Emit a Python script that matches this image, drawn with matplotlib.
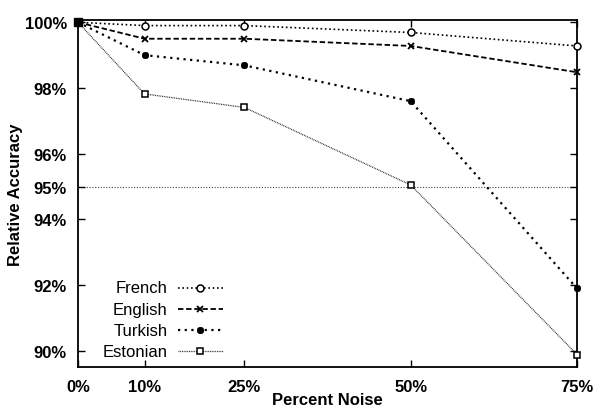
import matplotlib
matplotlib.use("Agg")
import matplotlib.pyplot as plt
from matplotlib.lines import Line2D

plt.rcParams['font.family'] = ['Liberation Sans', 'DejaVu Sans']

noise = [0, 10, 25, 50, 75]
xtick_labels = ['0%', '10%', '25%', '50%', '75%']
yticks = [90, 92, 94, 95, 96, 98, 100]
ytick_labels = ['90%', '92%', '94%', '95%', '96%', '98%', '100%']

french = [100, 99.90, 99.90, 99.69, 99.28]
english = [100, 99.50, 99.50, 99.28, 98.48]
turkish = [100, 99.00, 98.69, 97.60, 91.90]
estonian = [100, 97.82, 97.41, 95.05, 89.89]
threshold = 95

series = [
    ('French', french, dict(color='black', ls=(0, (1, 1.6)), lw=1.2, marker='o', ms=5, mfc='white', mew=1.1)),
    ('English', english, dict(color='black', ls=(0, (3, 1.5)), lw=1.3, marker='x', ms=5, mew=1.3)),
    ('Turkish', turkish, dict(color='black', ls=(0, (1, 2)), lw=1.6, marker=(8, 2, 0), ms=5, mew=1.3)),
    ('Estonian', estonian, dict(color='#222222', ls=(0, (0.7, 0.7)), lw=0.9, marker='s', ms=5, mfc='white', mec='black', mew=1.1)),
]

fig = plt.figure(figsize=(6.05, 4.10), dpi=100)
ax = fig.add_axes([78/605, 1-368/410, 499/605, 347/410])

ax.axhline(threshold, color='#444444', ls=(0, (1, 1.5)), lw=0.8, zorder=1)

for name, vals, st in series:
    ax.plot(noise, vals, clip_on=False, zorder=3, **st)
# overlapping start markers appear as a solid black square
ax.plot(noise[:1], estonian[:1], ls='none', marker='s', ms=6, color='black', clip_on=False, zorder=4)

ax.set_xlim(0, 75)
ax.set_ylim(89.51, 100.07)
ax.set_xticks(noise)
ax.set_xticklabels(xtick_labels, fontweight='bold', fontsize=12)
ax.set_yticks(yticks)
ax.set_yticklabels(ytick_labels, fontweight='bold', fontsize=12)
ax.tick_params(axis='both', direction='in', length=5, width=1, top=True, right=True)
ax.tick_params(axis='x', pad=9)
ax.tick_params(axis='y', pad=8)
for sp in ax.spines.values():
    sp.set_linewidth(1.3)

ax.set_xlabel('Percent Noise', fontweight='bold', fontsize=12, labelpad=-2)
ax.set_ylabel('Relative Accuracy', fontweight='bold', fontsize=12, labelpad=1)

# gnuplot-style legend: right-aligned labels, then line sample with marker
rows_y = [0.2277, 0.167, 0.1066, 0.0461]
for (name, vals, st), yy in zip(series, rows_y):
    ax.text(0.180, yy, name, transform=ax.transAxes, ha='right', va='center', fontsize=12)
    seg = dict(st)
    for k in ('marker', 'ms', 'mfc', 'mec', 'mew'):
        seg.pop(k, None)
    ax.add_line(Line2D([0.200, 0.2906], [yy, yy], transform=ax.transAxes, **seg))
    mk = {k: st[k] for k in ('marker', 'ms', 'mfc', 'mec', 'mew', 'color') if k in st}
    ax.add_line(Line2D([0.2445], [yy], transform=ax.transAxes, ls='none', **mk))

fig.savefig('out.png', dpi=100)
